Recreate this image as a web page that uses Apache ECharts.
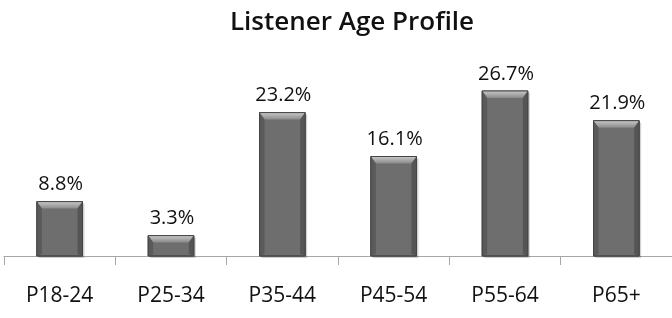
<!DOCTYPE html>
<html><head><meta charset="utf-8">
<script src="https://cdn.jsdelivr.net/npm/echarts@6/dist/echarts.min.js"></script>
<style>html,body{margin:0;padding:0;background:#fff}#c{width:672px;height:318px}</style>
</head><body><div id="c"></div>
<script>
const categories = ['P18-24','P25-34','P35-44','P45-54','P55-64','P65+'];
const values = [8.8, 3.3, 23.2, 16.1, 26.7, 21.9];
const labels = ['8.8%','3.3%','23.2%','16.1%','26.7%','21.9%'];
const titleText = 'Listener Age Profile';
const FONT = '"Open Sans", sans-serif';

const chart = echarts.init(document.getElementById('c'));
function renderItem(params, api) {
  const i = api.value(0), v = api.value(1);
  const top = api.coord([i, v]);
  const base = api.coord([i, 0]);
  const bw = api.size([1, 0])[0] * 0.41;
  const x = top[0] - bw / 2, y = top[1], h = base[1] - top[1];
  const b = Math.min(7, h / 3);
  const s = 5;
  return {
    type: 'group',
    children: [
      { type: 'rect', shape: { x: x + 2, y: y + 2, width: bw, height: h }, style: { fill: 'rgba(0,0,0,0.18)' } },
      { type: 'rect', shape: { x: x, y: y, width: bw, height: h }, style: { fill: '#6e6e6e', stroke: '#4a4a4a', lineWidth: 1 } },
      { type: 'polygon', shape: { points: [[x, y], [x + bw, y], [x + bw - s, y + b], [x + s, y + b]] },
        style: { fill: new echarts.graphic.LinearGradient(0, 0, 0, 1, [{ offset: 0, color: '#c8c8c8' }, { offset: 1, color: '#8a8a8a' }]) } },
      { type: 'polygon', shape: { points: [[x, y], [x + s, y + b], [x + s, y + h - 2], [x, y + h]] },
        style: { fill: '#5a5a5a' } },
      { type: 'polygon', shape: { points: [[x + bw, y], [x + bw - s, y + b], [x + bw - s, y + h - 2], [x + bw, y + h]] },
        style: { fill: '#555555' } },
      { type: 'rect', shape: { x: x, y: y, width: bw, height: h }, style: { fill: 'none', stroke: '#444', lineWidth: 1 } },
      { type: 'text', x: top[0] + 1, y: y - 7,
        style: { text: labels[i], font: '20px ' + FONT, fill: '#111', align: 'center', verticalAlign: 'bottom' } }
    ]
  };
}
chart.setOption({
  animation: false,
  title: { text: titleText, left: 347, top: 5, textAlign: 'center',
    textStyle: { fontFamily: FONT, fontWeight: 600, fontSize: 26, color: '#111' } },
  grid: { left: 4, right: -1, top: 70.6, bottom: 62, containLabel: false },
  xAxis: { type: 'category', data: categories,
    axisLine: { lineStyle: { color: '#a6a6a6', width: 1 } },
    axisTick: { show: true, length: 9, lineStyle: { color: '#a6a6a6' } },
    axisLabel: { fontFamily: FONT, fontSize: 21, color: '#111', margin: 30 } },
  yAxis: { type: 'value', min: 0, max: 30, show: false, splitLine: { show: false } },
  series: [{ type: 'custom', renderItem: renderItem,
    data: values.map((v, i) => [i, v]), encode: { x: 0, y: 1 } }]
});
</script></body></html>
